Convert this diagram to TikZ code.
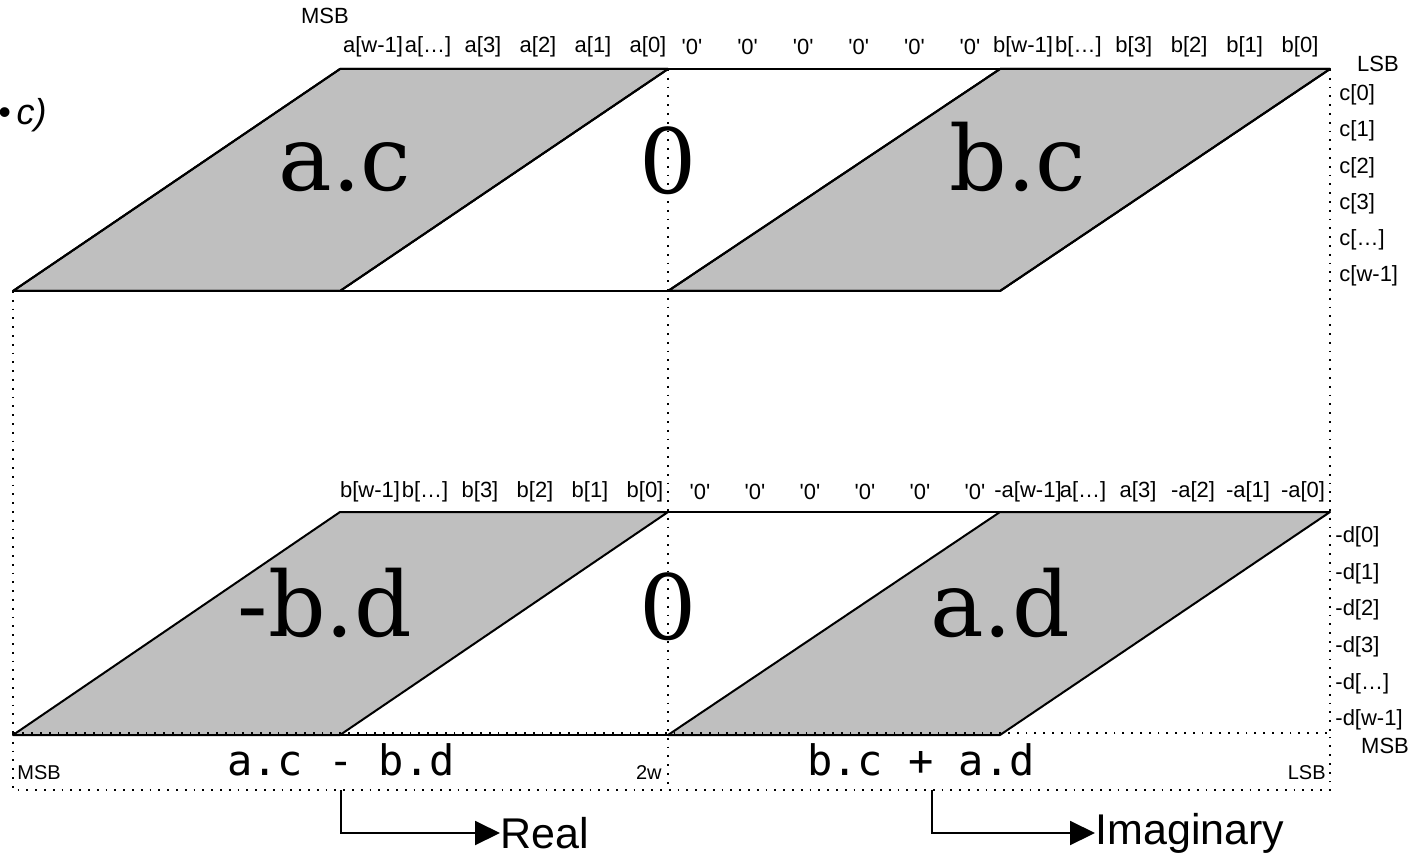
\documentclass[tikz,border=0pt]{standalone}
\usepackage{fontspec}
\setmainfont{Liberation Sans}
\newfontfamily\bigserif{DejaVu Serif}
\newfontfamily\codefont{DejaVu Sans Mono}
\usetikzlibrary{arrows.meta, positioning}

\newcommand{\zq}{\textquotesingle 0\textquotesingle}

\begin{document}
\begin{tikzpicture}
  [x=0.5pt, y=-0.5pt,
  every node/.style={inner sep=0pt},
  bit/.style={font=\fontsize{11}{11}\selectfont},
  prod/.style={fill=black!25, draw, line width=1pt, line join=round},
  rim/.style={line width=1pt},
  guideline/.style={line width=0.9pt, dash pattern=on 0.9pt off 3.5pt},
  bigterm/.style={font=\bigserif\fontsize{45}{45}\selectfont, anchor=base},
  result/.style={font=\codefont\fontsize{21}{21}\selectfont, anchor=base},
  outarrow/.style={line width=1pt, -{Triangle[length=12.5pt, width=12pt]}},
  outlabel/.style={font=\fontsize{21.5}{21.5}\selectfont, anchor=west}]
  \useasboundingbox (0,0) rectangle (1416,855);

  % partial product a.c / b.c
  \fill[prod] (13,291) -- (340,69) -- (668,69) -- (340,291) -- cycle;
  \fill[prod] (668,291) -- (1000,69) -- (1330,69) -- (1000,291) -- cycle;
  \draw[rim] (340,69) -- (1330,69);
  \draw[rim] (13,291) -- (1000,291);
  \draw[prod, fill=none] (13,291) -- (340,69) -- (668,69) -- (340,291) -- cycle;
  \draw[prod, fill=none] (668,291) -- (1000,69) -- (1330,69) -- (1000,291) -- cycle;

  % partial product -b.d / a.d
  \fill[prod] (13,735) -- (340,512) -- (668,512) -- (340,735) -- cycle;
  \fill[prod] (668,735) -- (1000,512) -- (1330,512) -- (1000,735) -- cycle;
  \draw[rim] (340,512) -- (1330,512);
  \draw[rim] (13,735) -- (1000,735);

  % guides and result box
  \coordinate (boxnw) at (13,733);
  \coordinate (boxse) at (1330,790);
  \draw[guideline] (668,69) -- (668,790);
  \draw[guideline] (1330,69) -- (1330,733);
  \draw[guideline] (13,291) -- (13,733);
  \draw[guideline] (boxnw) rectangle (boxse);

  \node[bigterm] (ac) at (345,191) {a.c};
  \node[bigterm] (zerotop) at (668,194) {0};
  \node[bigterm] (bc) at (1018,191) {b.c};
  \node[bigterm] (bd) at (325,636) {-b.d};
  \node[bigterm] (zerobot) at (668,639) {0};
  \node[bigterm] (ad) at (1000,636) {a.d};

  % operand bits
  \node[bit] (msbtop) at (325,16) {MSB};
  \node[bit] (lsbtop) at (1378,64) {LSB};
  \foreach \t [count=\i from 0] in {{a[0]},{a[1]},{a[2]},{a[3]},{a[\ldots]},{a[w-1]}}
    \node[bit] at (648-55*\i,47) {\t};
  \foreach \i in {0,1,2,3,4,5}
    \node[bit] at (970-55.6*\i,47) {\zq};
  \foreach \t [count=\i from 0] in {{b[0]},{b[1]},{b[2]},{b[3]},{b[\ldots]},{b[w-1]}}
    \node[bit] at (1300-55.4*\i,47) {\t};
  \foreach \t [count=\i from 0] in {{c[0]},{c[1]},{c[2]},{c[3]},{c[\ldots]},{c[w-1]}}
    \node[bit, anchor=west] at (1339,95+36.2*\i) {\t};

  \foreach \t [count=\i from 0] in {{b[0]},{b[1]},{b[2]},{b[3]},{b[\ldots]},{b[w-1]}}
    \node[bit] at (645-55*\i,492) {\t};
  \foreach \i in {0,1,2,3,4,5}
    \node[bit] at (975-55*\i,492) {\zq};
  \foreach \t [count=\i from 0] in {{-a[0]},{-a[1]},{-a[2]},{a[3]},{a[\ldots]},{-a[w-1]}}
    \node[bit] at (1303-55*\i,492) {\t};
  \foreach \t [count=\i from 0] in {{-d[0]},{-d[1]},{-d[2]},{-d[3]},{-d[\ldots]},{-d[w-1]}}
    \node[bit, anchor=west] at (1335,537+36.6*\i) {\t};
  \node[bit] (msbright) at (1385,746) {MSB};

  % result
  \node[bit, anchor=west, font=\fontsize{10}{10}\selectfont] (msbbot) at (17,773) {MSB};
  \node[bit, anchor=east, font=\fontsize{10}{10}\selectfont] (width) at (662,773) {2w};
  \node[bit, anchor=east, font=\fontsize{10}{10}\selectfont] (lsbbot) at (1326,773) {LSB};
  \node[result] (resre) at (341,775) {a.c - b.d};
  \node[result] (resim) at (921,775) {b.c + a.d};

  \node[outlabel] (real) at (500,833) {Real};
  \node[outlabel] (imag) at (1095,833) {Imaginary};
  \draw[outarrow] (resre |- boxse) |- (real.west);
  \draw[outarrow] ([xshift=5.5pt]resim.center |- boxse) |- (imag.west);

  \node[anchor=east, font=\fontsize{18}{18}\selectfont\itshape] (opnd) at (47,115) {\textbullet\,c)};
\end{tikzpicture}
\end{document}
